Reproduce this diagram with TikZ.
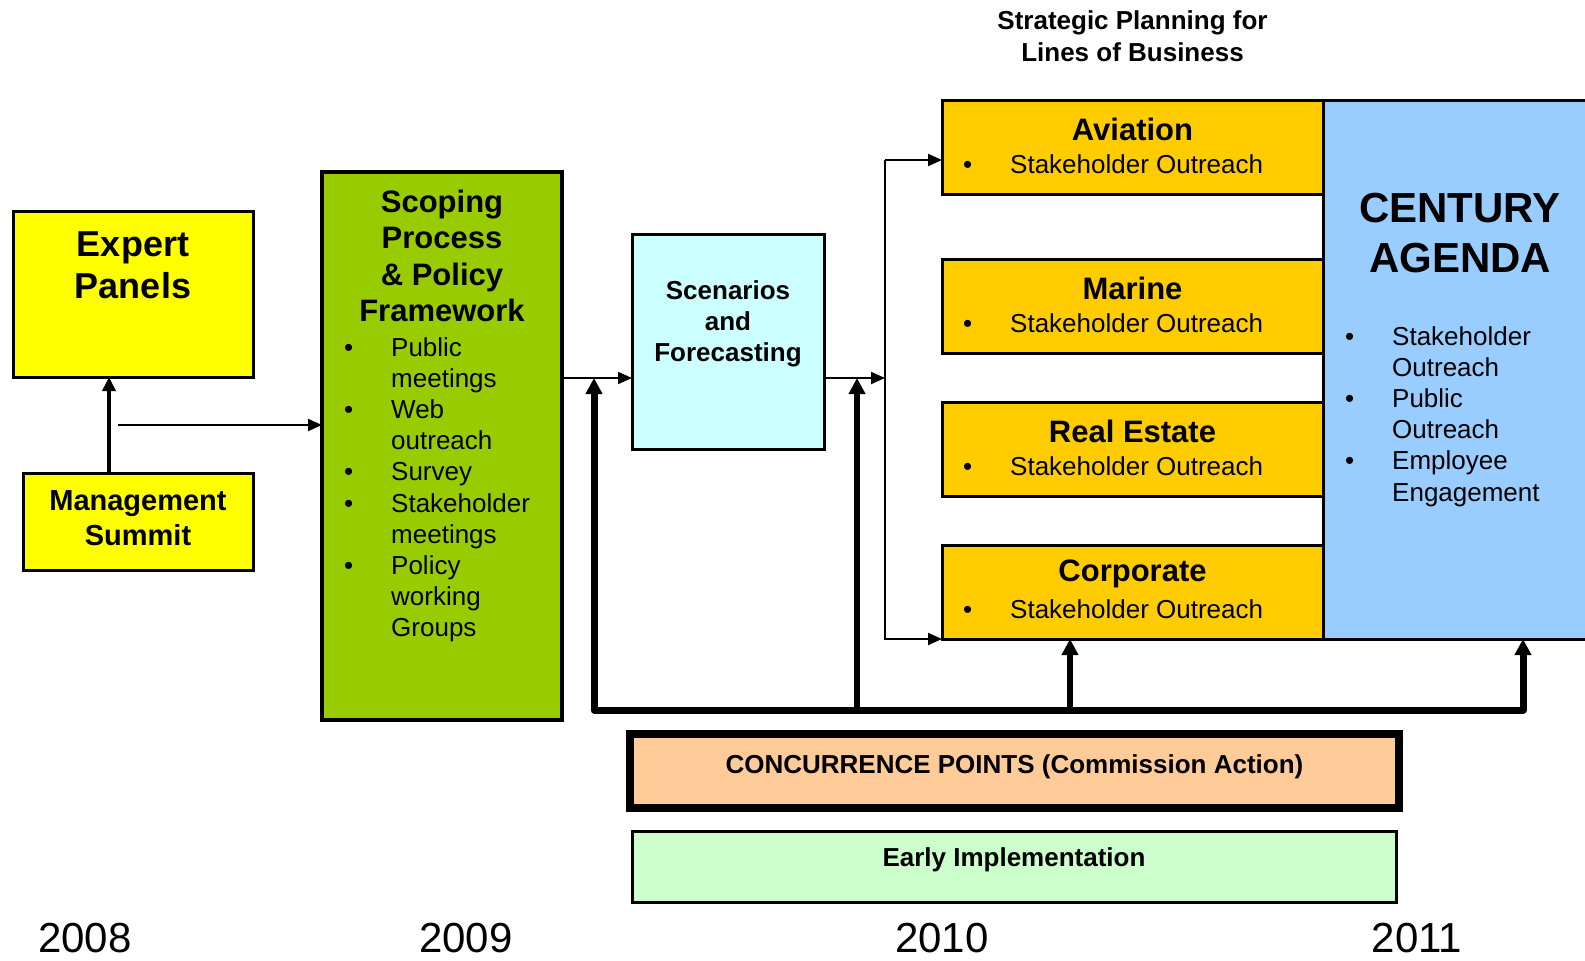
\documentclass[tikz,border=0pt]{standalone}
\usepackage{fontspec}
\setmainfont{Liberation Sans}
\usetikzlibrary{calc,arrows.meta}
\definecolor{panelyellow}{HTML}{FFFF00}
\definecolor{scopegreen}{HTML}{99CC00}
\definecolor{scencyan}{HTML}{CCFFFF}
\definecolor{lobgold}{HTML}{FFCC00}
\definecolor{agendablue}{HTML}{99CCFF}
\definecolor{concpeach}{HTML}{FFCC99}
\definecolor{earlygreen}{HTML}{CCFFCC}
\newcommand{\fsz}[2]{\fontsize{#1}{#2}\selectfont}
\newcommand{\stake}{\makebox[47pt][l]{\textbullet}Stakeholder Outreach}
\tikzset{
  box/.style={draw=black, line width=3pt, inner sep=0pt, outer sep=0pt, anchor=north west},
  head/.style={font=\bfseries\fsz{31}{36}, align=center, inner sep=0pt},
  body/.style={font=\fsz{26}{31.2}, inner sep=0pt, align=left},
  link/.style={draw=black, line width=2pt, -{Triangle[length=14pt,width=12pt]}},
  riser/.style={draw=black, line width=6pt, line join=round, -{Triangle[length=16pt,width=16pt]}},
  yearlab/.style={font=\fsz{42}{48}, inner sep=0pt}
}

\begin{document}
\begin{tikzpicture}[x=1pt,y=-1pt]
  \clip (0,0) rectangle (1585,961);

  % left column
  \node[box, fill=panelyellow, minimum width=240pt, minimum height=166pt] (expert) at (13,211) {};
  \node[head, font=\bfseries\fsz{36}{42}] (expert-ttl) at ($(expert.north)+(0,54)$) {Expert\\Panels};
  \node[box, fill=panelyellow, minimum width=230pt, minimum height=97pt] (mgmt) at (23,473) {};
  \node[head, font=\bfseries\fsz{29}{35}] (mgmt-ttl) at ($(mgmt.north)+(0,45.5)$) {Management\\Summit};

  % scoping
  \node[box, line width=4pt, fill=scopegreen, minimum width=240pt, minimum height=548pt] (scope) at (322,172) {};
  \node[head, font=\bfseries\fsz{31}{36.5}] (scope-ttl) at ($(scope.north)+(0,84)$) {Scoping\\Process\\\& Policy\\Framework};
  \node[body, anchor=north west] (scope-list) at ($(scope.north west)+(22,162)$) {%
    \begin{tabular}{@{}p{47pt}@{}l@{}}
      \textbullet & Public\\ & meetings\\
      \textbullet & Web\\ & outreach\\
      \textbullet & Survey\\
      \textbullet & Stakeholder\\ & meetings\\
      \textbullet & Policy\\ & working\\ & Groups
    \end{tabular}};

  % scenarios
  \node[box, fill=scencyan, minimum width=192pt, minimum height=215pt] (scen) at (632,234) {};
  \node[head, font=\bfseries\fsz{26}{31}] (scen-ttl) at ($(scen.north)+(0,90)$) {Scenarios\\and\\Forecasting};

  % century agenda (runs off the right edge)
  \node[box, fill=agendablue, minimum width=297pt, minimum height=539pt] (cent) at (1323,100) {};
  \node[head, font=\bfseries\fsz{42}{50}] (cent-ttl) at ($(cent.north west)+(137,133)$) {CENTURY\\AGENDA};
  \node[body, anchor=north west] (cent-list) at ($(cent.north west)+(22,223)$) {%
    \begin{tabular}{@{}p{47pt}@{}l@{}}
      \textbullet & Stakeholder\\ & Outreach\\
      \textbullet & Public\\ & Outreach\\
      \textbullet & Employee\\ & Engagement
    \end{tabular}};

  % lines of business
  \foreach \nm/\ttl/\top in {avi/Aviation/100, marine/Marine/259, realest/Real Estate/402, corp/Corporate/545} {
    \node[box, fill=lobgold, minimum width=381pt, minimum height=94pt] (\nm) at (942,\top) {};
    \node[head] (\nm-ttl) at ($(\nm.north)+(0,29)$) {\ttl};
    \node[body, anchor=west] (\nm-item) at ($(\nm.north west)+(21,64)$) {\stake};
  }
  \node[head, font=\bfseries\fsz{26}{32}] (strat) at ($(avi.north)+(0,-63.5)$) {Strategic Planning for\\Lines of Business};

  % bottom bars
  \node[box, line width=8pt, fill=concpeach, minimum width=769pt, minimum height=74pt] (conc) at (630,734) {};
  \node[head, font=\bfseries\fsz{26}{30}] (conc-ttl) at ($(conc.center)+(0,-4)$) {CONCURRENCE POINTS (Commission Action)};
  \node[box, fill=earlygreen, minimum width=764pt, minimum height=71pt] (early) at (632,831) {};
  \node[head, font=\bfseries\fsz{26}{30}] (early-ttl) at ($(early.center)+(0,-6.5)$) {Early Implementation};

  % years
  \foreach \yr/\xx in {2008/85, 2009/466, 2010/942, 2011/1417}
    \node[yearlab] (y\yr) at (\xx,938) {\yr};

  % connectors
  \coordinate (fork) at (118,425);
  \coordinate (mid) at (0,378);
  \coordinate (bustop) at (885,160);
  \coordinate (busbot) at (885,639);
  \coordinate (b1) at (594,710);
  \coordinate (b2) at (857,710);
  \coordinate (b3) at (1070,710);
  \coordinate (b4) at (1523,710);

  \draw[link, line width=4pt, -{Triangle[length=14pt,width=13pt]}] ([xshift=-29pt]mgmt.north) -- ([xshift=-29pt]mgmt.north |- expert.south);
  \draw[link] (fork) -- (scope.west |- fork);
  \draw[link] (scope.east |- mid) -- (scen.west |- mid);
  \draw[link] (scen.east |- mid) -- (bustop |- mid);
  \draw[link] (bustop) -- (avi.west |- bustop);
  \draw[link] (bustop) -- (busbot) -- (corp.south west);

  \draw[riser, line width=7pt, {Triangle[length=16pt,width=16pt]}-{Triangle[length=16pt,width=16pt]}]
    (b1 |- mid) -- (b1) -- (b4) -- (b4 |- cent.south);
  \draw[riser] (b2) -- (b2 |- mid);
  \draw[riser] (b3) -- (b3 |- corp.south);
\end{tikzpicture}
\end{document}
